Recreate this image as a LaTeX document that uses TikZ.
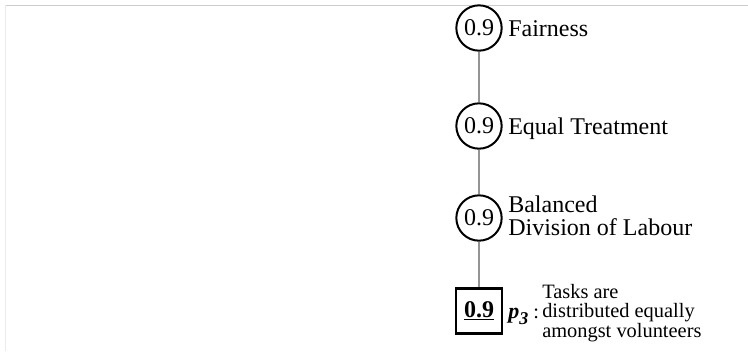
\documentclass[tikz,border=0pt]{standalone}
\usepackage{fontspec}
\setmainfont{Liberation Serif}
\begin{document}
\begin{tikzpicture}[x=0.75pt,y=-0.75pt,
  crit/.style={circle,draw=black,line width=1.5pt,minimum size=34pt,inner sep=0pt,font=\fontsize{18}{18}\selectfont},
  leafbox/.style={rectangle,draw=black,line width=1.9pt,minimum width=34.5pt,minimum height=34pt,inner sep=0pt,font=\fontsize{18}{18}\selectfont\bfseries},
  lbl/.style={anchor=base west,inner sep=0pt,font=\fontsize{18}{17}\selectfont,align=left},
  small/.style={anchor=base west,inner sep=0pt,font=\fontsize{15.3}{14.3}\selectfont,align=left},
  link/.style={draw=black!42,line width=1.8pt}]
\useasboundingbox (0,0) rectangle (748,351);
\coordinate (tl) at (5,5);
\coordinate (tr) at (748,5);
\coordinate (bl) at (5,351);
\draw[line width=0.75pt,draw=black!20] (tl) -- (tr);
\draw[line width=0.75pt,draw=black!8] (tl) -- (bl);

\node[crit] (c1) at (479,28) {0.9};
\node[crit] (c2) at (479,126) {0.9};
\node[crit] (c3) at (479,218) {0.9};
\node[leafbox] (b) at (479,311) {\underline{0.9}};

\draw[link] (c1) -- (c2);
\draw[link] (c2) -- (c3);
\draw[link] (c3) -- (b);

\node[lbl] (l1) at (508,36) {Fairness};
\node[lbl] (l2) at (508,134) {Equal Treatment};
\node[lbl] (l3) at (508,235) {Balanced\\Division of Labour};

\node[anchor=base west,inner sep=0pt,font=\fontsize{16.5}{16.5}\selectfont] (p) at (508,318) {\textbf{\textit{p}}\raisebox{-5pt}{\fontsize{13.5}{13.5}\selectfont\textbf{\textit{3}}}};
\node[anchor=base west,inner sep=0pt,font=\fontsize{15.3}{15.3}\selectfont] (colon) at (533,318) {:};
\node[small] (t) at (542,337) {Tasks are\\distributed equally\\amongst volunteers};
\end{tikzpicture}
\end{document}
